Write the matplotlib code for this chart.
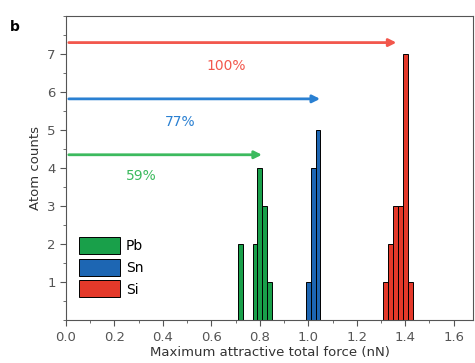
import matplotlib.pyplot as plt
from matplotlib.ticker import MultipleLocator

# histogram bars (bin centre in nN, atom count)
pb_force = [0.72, 0.78, 0.80, 0.82, 0.84]
pb_count = [2, 2, 4, 3, 1]
sn_force = [1.00, 1.02, 1.04]
sn_count = [1, 4, 5]
si_force = [1.32, 1.34, 1.36, 1.38, 1.40, 1.42]
si_count = [1, 2, 3, 3, 7, 1]

# arrows: (level, tip, label)
arrow_y = [7.3, 5.82, 4.35]
arrow_tip = [1.375, 1.06, 0.82]
arrow_lab = ['100%', '77%', '59%']
arrow_col = ['#f2574c', '#2a80d2', '#3cba5e']
lab_pos = [(0.66, 6.68), (0.47, 5.2), (0.31, 3.8)]

fig = plt.figure(figsize=(4.75, 3.63), dpi=100)
ax = fig.add_axes([0.139, 0.118, 0.857, 0.838])

w = 0.02
ax.bar(pb_force, pb_count, width=w, color='#19a04a', edgecolor='black', linewidth=0.7, label='Pb')
ax.bar(sn_force, sn_count, width=w, color='#1d66b3', edgecolor='black', linewidth=0.7, label='Sn')
ax.bar(si_force, si_count, width=w, color='#e4392a', edgecolor='black', linewidth=0.7, label='Si')

for y, tip, lab, c, (tx, ty) in zip(arrow_y, arrow_tip, arrow_lab, arrow_col, lab_pos):
    ax.annotate('', xy=(tip, y), xytext=(0, y),
                arrowprops=dict(arrowstyle='-|>', color=c, lw=2, mutation_scale=11))
    ax.text(tx, ty, lab, color=c, fontsize=10, ha='center', va='center')

ax.set_xlim(0, 1.68)
ax.set_ylim(0, 8)
ax.xaxis.set_major_locator(MultipleLocator(0.2))
ax.xaxis.set_minor_locator(MultipleLocator(0.1))
ax.yaxis.set_major_locator(MultipleLocator(1))
ax.yaxis.set_minor_locator(MultipleLocator(0.5))
ax.set_yticks(range(1, 8))
ax.tick_params(which='both', colors='#555555', labelsize=9.5, direction='out')
ax.tick_params(which='major', length=4)
ax.tick_params(which='minor', length=2)
for s in ax.spines.values():
    s.set_color('#555555')
ax.set_xlabel('Maximum attractive total force (nN)', fontsize=9.5, color='#333333', labelpad=2)
ax.set_ylabel('Atom counts', fontsize=9.5, color='#333333', labelpad=4)

leg = ax.legend(loc='upper left', bbox_to_anchor=(0.0, 0.315), frameon=False, fontsize=10,
                handlelength=3.0, handleheight=1.5, labelspacing=0.35, handletextpad=0.4)

fig.text(0.02, 0.915, 'b', fontsize=10, fontweight='bold')

fig.savefig('out.png', dpi=100)
